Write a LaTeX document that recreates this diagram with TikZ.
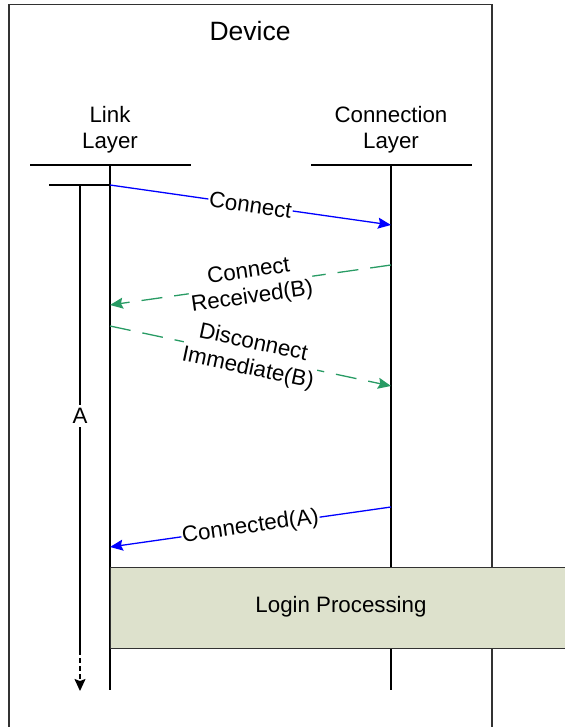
\documentclass[tikz,border=0pt]{standalone}
\usepackage{fontspec}
\setmainfont{Liberation Sans}
\usetikzlibrary{arrows.meta}
\definecolor{grn}{RGB}{40,155,100}
\definecolor{loginfill}{RGB}{221,225,204}
\definecolor{bordergray}{RGB}{50,50,50}
\begin{document}
\begin{tikzpicture}[x=1pt,y=-1pt,
  lbl/.style={font=\fontsize{22.3}{26}\selectfont, align=center, inner sep=1pt},
  onlbl/.style={lbl, fill=white, midway, sloped},
  lifeline/.style={line width=1.4pt, black},
  tip/.style={-{Stealth[length=13pt,width=11pt,inset=2pt]}},
  msgblue/.style={draw=blue, line width=1.3pt, tip},
  msggreen/.style={draw=grn, line width=1.3pt, dash pattern=on 21pt off 12pt, tip},
  loginbox/.style={draw=bordergray, fill=loginfill, line width=1.2pt, inner sep=0pt, anchor=north west, minimum width=470pt, minimum height=81pt}]
\useasboundingbox (0,0) rectangle (564,727);
% device frame (open at bottom)
\draw[bordergray, line width=1.3pt] (9,740) -- (9,4.5) -- (492,4.5) -- (492,740);
\node[font=\fontsize{26.5}{30}\selectfont] (device) at (250,31) {Device};
% layer heads
\node[lbl] (linkhead) at (110,130) {Link\\Layer};
\node[lbl] (connhead) at (391,130) {Connection\\Layer};
\coordinate (lhl) at (30,165);  \coordinate (lhr) at (191,165);
\coordinate (chl) at (311,165); \coordinate (chr) at (472,165);
\draw[lifeline] (lhl) -- (lhr);
\draw[lifeline] (chl) -- (chr);
% lifelines
\coordinate (ltop) at (110,165); \coordinate (lbot) at (110,690);
\coordinate (ctop) at (391,165); \coordinate (cbot) at (391,690);
\draw[lifeline] (ltop) -- (lbot);
\draw[lifeline] (ctop) -- (cbot);
% timer A
\coordinate (atl) at (49,185); \coordinate (atr) at (110,185);
\coordinate (atop) at (80,185); \coordinate (amid) at (80,650); \coordinate (abot) at (80,691);
\draw[lifeline] (atl) -- (atr);
\draw[lifeline] (atop) -- (amid) node[pos=0.497, lbl, fill=white, inner sep=3pt] (alabel) {A};
\draw[lifeline, dash pattern=on 5pt off 3pt, -{Stealth[length=12pt,width=11pt,inset=2pt]}] (amid) -- (abot);
% messages
\coordinate (m1s) at (110,185); \coordinate (m1e) at (391,225);
\coordinate (m2s) at (391,265); \coordinate (m2e) at (110,305);
\coordinate (m3s) at (110,326); \coordinate (m3e) at (391,386);
\coordinate (m4s) at (391,507); \coordinate (m4e) at (110,547);
\draw[msgblue] (m1s) -- (m1e) node[onlbl] (l1) {Connect};
\draw[msggreen] (m2s) -- (m2e) node[onlbl] (l2) {Connect\\Received(B)};
\draw[msggreen] (m3s) -- (m3e) node[onlbl] (l3) {Disconnect\\Immediate(B)};
\draw[msgblue] (m4s) -- (m4e) node[onlbl] (l4) {Connected(A)};
% login processing
\node[loginbox] (login) at (110,567) {};
\node[lbl] (logintxt) at (341,607) {Login Processing};
\end{tikzpicture}
\end{document}
